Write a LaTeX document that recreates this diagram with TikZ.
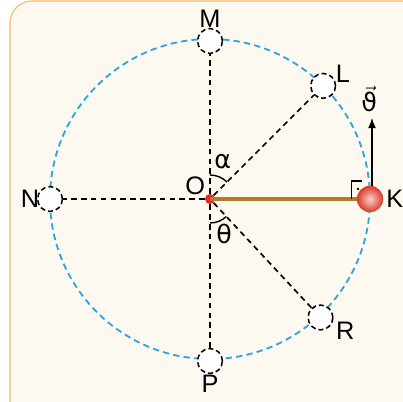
\documentclass[tikz,border=0pt]{standalone}
\usepackage{fontspec}
\setmainfont{Liberation Sans}
\newfontfamily\greekfont{DejaVu Sans}
\usepackage{xcolor}
\usetikzlibrary{arrows.meta, positioning}
\definecolor{boxfill}{HTML}{FDF9F1}
\definecolor{boxline}{HTML}{F8B86A}
\definecolor{orbit}{HTML}{2BA6DE}
\definecolor{rod}{HTML}{B5792F}
\definecolor{dotred}{HTML}{E5262B}
\definecolor{ballred}{HTML}{E8402A}

\begin{document}
\begin{tikzpicture}[every node/.style={font=\fontsize{18}{20}\selectfont},
  spot/.style={circle, draw=black, fill=white, line width=1.1pt,
    dash pattern=on 3.5pt off 2.2pt, minimum size=0.62cm, inner sep=0pt},
  radial/.style={black, line width=1.2pt, dash pattern=on 4pt off 3pt}]
  \useasboundingbox (-5.25,-5.075) rectangle (4.825,4.975);
  \clip (-5.25,-5.075) rectangle (4.825,4.975);
  % ---------- FRAME ----------
  \draw[boxline, fill=boxfill, line width=0.8pt, rounded corners=0.55cm]
    (-5.0,-5.7) rectangle (5.6,4.95);
  % ---------- ORBIT ----------
  \draw[orbit, line width=1.3pt, dash pattern=on 4.5pt off 3pt] (0,0) circle (4);
  % ---------- POSITIONS ----------
  \node[circle, fill=dotred, minimum size=0.25cm, inner sep=0pt] (O) at (0,0) {};
  \node[spot] (M) at (90:3.95) {};
  \node[spot] (L) at (45:4) {};
  \node[spot] (N) at (180:4) {};
  \node[spot] (P) at (270:4.05) {};
  \node[spot] (R) at (-47:4.05) {};
  \foreach \p in {M,L,N,P,R} \draw[radial] (O) -- (\p);
  % ---------- ROD AND BALL ----------
  \draw[rod, line width=2.2pt] (O.center) -- (4,0);
  \node[circle, inner color=white!75!ballred, outer color=ballred!92!black,
    minimum size=0.66cm, inner sep=0pt] (K) at (4,0) {};
  \coordinate (V) at (4.05,2.03);
  \draw[-{Latex[length=2.6mm,width=2mm]}, line width=1.1pt] (K.north) ++(0.05,0) -- (V);
  \draw[line width=0.8pt] (3.53,0) -- (3.53,0.45) -- (3.79,0.45);
  \fill (3.7,0.25) circle (0.9pt);
  % ---------- ANGLES ----------
  \draw[line width=1pt] (90:0.6) arc[start angle=90, end angle=45, radius=0.6];
  \draw[line width=1pt] (270:0.6) arc[start angle=270, end angle=313, radius=0.6];
  % ---------- LABELS ----------
  \node at (0,4.5) {M};
  \node at (3.32,3.12) {L};
  \node at (4.62,0) {K};
  \node at (-4.5,0) {N};
  \node at (0,-4.63) {P};
  \node at (3.38,-3.3) {R};
  \node at (-0.37,0.33) {O};
  \node at (0.32,0.93) {\greekfont α};
  \node at (0.35,-0.88) {\greekfont θ};
  \node at (3.98,2.5) {$\vec{\mbox{\greekfont ϑ}}$};
\end{tikzpicture}
\end{document}
